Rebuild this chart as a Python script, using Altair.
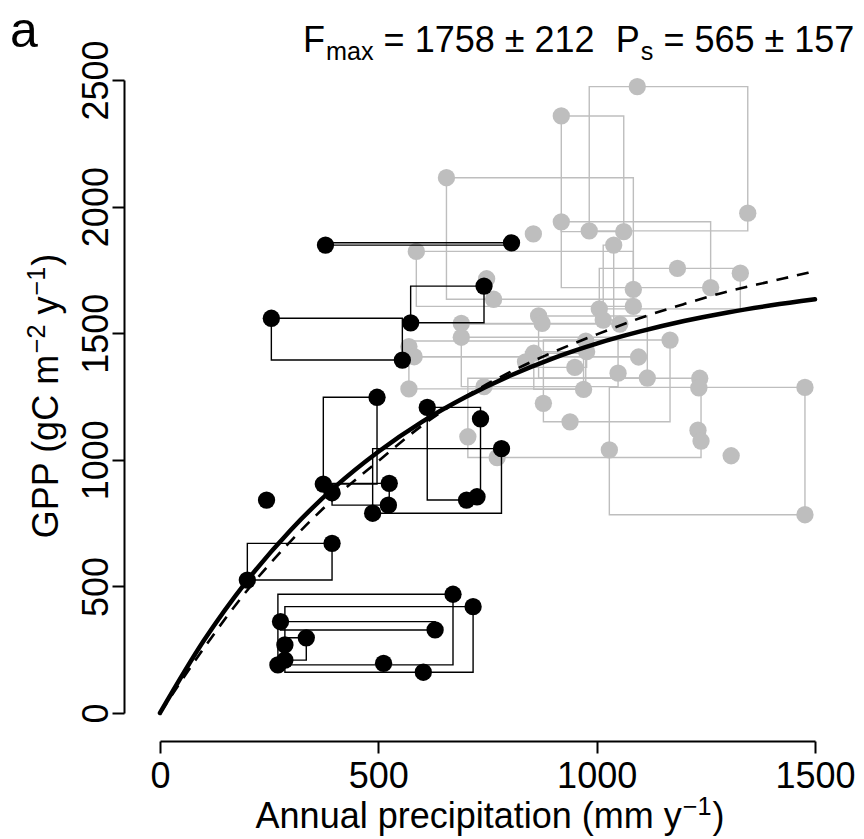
import altair as alt
import pandas as pd

# ---------------- data ----------------
black_x = [379, 805, 742, 255, 574, 555, 497, 612, 734, 782,
           374, 394, 525, 244, 702, 726, 487, 523, 394, 200,
           276, 335, 286, 286, 270, 512, 671, 717, 630, 603]
black_y = [1848, 1857, 1686, 1559, 1541, 1394, 1247, 1207, 1162, 1044,
           904, 870, 907, 841, 841, 854, 789, 821, 670, 525,
           361, 297, 269, 209, 190, 196, 469, 420, 328, 161]
black_site = ["k1", "k1", "k2", "k3", "k2", "k3", "k4", "k7", "k7", "k8",
              "k4", "k5", "k5", "k6", "k7", "k7", "k8", "k5", "k10", "k10",
              "k13", "k14", "k12", "k14", "k11", "k11", "k11", "k12", "k13", "k12"]

gray_x = [1093, 919, 656, 1346, 919, 983, 1062, 1039, 855, 587,
          1185, 1329, 748, 764, 1084, 1261, 1084, 1006, 1015, 867,
          875, 690, 690, 570, 582, 856, 837, 950, 975, 977,
          742, 1049, 570, 705, 772, 1053, 1096, 1168, 1116, 970,
          878, 939, 1236, 1234, 1232, 1239, 1308, 1029, 1477, 1477]
gray_y = [2474, 2358, 2114, 1974, 1940, 1904, 1901, 1848, 1892, 1823,
          1756, 1737, 1715, 1634, 1673, 1680, 1606, 1596, 1552, 1568,
          1539, 1539, 1484, 1447, 1407, 1421, 1387, 1365, 1469, 1427,
          1289, 1342, 1280, 1091, 1009, 1536, 1406, 1473, 1323, 1278,
          1223, 1150, 1322, 1284, 1117, 1074, 1016, 1039, 1286, 783]
gray_site = ["s1", "s2", "s4", "s1", "s3", "s1", "s2", "s21", "s9x", "s5",
             "s6", "s6", "s13x", "s4", "s4", "s3", "s5", "s6", "s21", "s12",
             "s12", "s8", "s11", "s9", "s10", "s20", "s14", "s14", "s9", "s14",
             "s11", "s11", "s9", "s15", "s15", "s8", "s10", "s17", "s12", "s20",
             "s17", "s17", "s15", "s15", "s15", "s15", "s44x", "s16", "s16", "s16"]

curve_x = [0, 100, 200, 300, 400, 500, 600, 700, 800, 900, 1000, 1100, 1200, 1300, 1400, 1500]
solid_y = [0, 285, 524, 724, 892, 1032, 1150, 1248, 1331, 1401, 1459, 1507, 1548, 1582, 1610, 1634]
dashed_y = [0, 255, 485, 680, 850, 995, 1135, 1250, 1345, 1425, 1495, 1560, 1615, 1665, 1705, 1745]

x_ticks = [0, 500, 1000, 1500]
y_ticks = [0, 500, 1000, 1500, 2000, 2500]

# ---------------- styling ----------------
FONT = "Liberation Sans"
FS = 36
SS = 25.2
GRAY = "#BEBEBE"

black = pd.DataFrame({"x": black_x, "y": black_y, "site": black_site})
gray = pd.DataFrame({"x": gray_x, "y": gray_y, "site": gray_site})
curves = pd.DataFrame({"x": curve_x, "solid": solid_y, "dashed": dashed_y})

xs = alt.Scale(domain=[0, 1500], nice=False, zero=False)
ys = alt.Scale(domain=[0, 2500], nice=False, zero=False)

common = dict(tickSize=12, tickWidth=2, domainWidth=2, domainColor="black",
              tickColor="black", labelFont=FONT, labelFontSize=FS, labelColor="black",
              grid=False, title=None, labelFlush=False, labelOverlap=False, format="d")
xaxis = alt.Axis(values=x_ticks, offset=28, labelPadding=6, **common)
yaxis = alt.Axis(values=y_ticks, offset=36, labelAngle=270, labelAlign="center",
                 labelBaseline="alphabetic", labelPadding=5, **common)


def boxes(df, color):
    return (alt.Chart(df)
            .transform_aggregate(x1="min(x)", x2="max(x)", y1="min(y)", y2="max(y)",
                                 n="count()", groupby=["site"])
            .transform_filter("datum.n > 1")
            .mark_rect(fillOpacity=0, stroke=color, strokeWidth=1.4)
            .encode(x=alt.X("x1:Q", scale=xs, axis=xaxis), x2="x2:Q",
                    y=alt.Y("y1:Q", scale=ys, axis=yaxis), y2="y2:Q"))


def points(df, color):
    return (alt.Chart(df).mark_circle(size=300, opacity=1, color=color)
            .encode(x=alt.X("x:Q", scale=xs, axis=xaxis),
                    y=alt.Y("y:Q", scale=ys, axis=yaxis)))


dashed = (alt.Chart(curves).mark_line(color="black", strokeWidth=2.6, strokeDash=[12, 9],
                                      interpolate="monotone")
          .encode(x=alt.X("x:Q", scale=xs, axis=xaxis),
                  y=alt.Y("dashed:Q", scale=ys, axis=yaxis)))
solid = (alt.Chart(curves).mark_line(color="black", strokeWidth=4.5, interpolate="monotone",
                                     strokeCap="round")
         .encode(x=alt.X("x:Q", scale=xs, axis=xaxis),
                 y=alt.Y("solid:Q", scale=ys, axis=yaxis)))

# ---------------- text pieces (rich text built from parts) ----------------
AW = {'A': 667, 'n': 556, 'u': 556, 'a': 556, 'l': 222, ' ': 278, 'p': 556, 'r': 333,
      'e': 556, 'c': 500, 'i': 222, 't': 278, 'o': 556, '(': 333, ')': 333, 'm': 833,
      'y': 500, 'G': 778, 'P': 667, 'g': 556, 'C': 722, 'F': 611, 'x': 500, 's': 500,
      '=': 584, '1': 556, '7': 556, '5': 556, '8': 556, '2': 556, '6': 556,
      '\u00b1': 584, '\u2212': 584}
SP = 0.278 * FS  # width of one space


def tw(s, size):
    return sum(AW.get(c, 556) for c in s) / 1000.0 * size


one = pd.DataFrame({"k": [0]})


def txt(s, x, y, size, angle=0, align="left"):
    return (alt.Chart(one)
            .mark_text(text=s, align=align, baseline="alphabetic", font=FONT,
                       fontSize=size, color="black", angle=angle)
            .encode(x=alt.value(x), y=alt.value(y)))


texts = []
# x title: (text, size, baseline shift, gap before)
parts = [("Annual precipitation (mm y", FS, 0, 0), ("\u22121", SS, -13, 1), (")", FS, 0, 1)]
total = sum(tw(s, sz) + g for s, sz, _, g in parts)
cx = 330 - total / 2
for s, sz, dy, g in parts:
    cx += g
    texts.append(txt(s, cx, 748 + dy, sz))
    cx += tw(s, sz)

# y title (rotated)
parts = [("GPP (gC m", FS, 0, 0), ("\u22122", SS, -13, 1), ("y", FS, 0, SP),
         ("\u22121", SS, -13, 1), (")", FS, 0, 1)]
total = sum(tw(s, sz) + g for s, sz, _, g in parts)
cy = 316 + total / 2
for s, sz, dx, g in parts:
    cy -= g
    texts.append(txt(s, -102 + dx, cy, sz, angle=270))
    cy -= tw(s, sz)

# top annotation
parts = [("F", FS, 0, 0), ("max", SS, 8, 1), ("= 1758 \u00b1 212", FS, 0, SP),
         ("P", FS, 0, 2 * SP), ("s", SS, 8, 1), ("= 565 \u00b1 157", FS, 0, SP)]
cx = 143
for s, sz, dy, g in parts:
    cx += g
    texts.append(txt(s, cx, -28 + dy, sz))
    cx += tw(s, sz)

texts.append(txt("a", -150, -33, 50))

chart = alt.layer(
    boxes(gray, GRAY), points(gray, GRAY),
    boxes(black, "black"), points(black, "black"),
    dashed, solid, *texts
).properties(
    width=655, height=633, autosize="none",
    padding={"left": 152, "top": 72, "right": 41, "bottom": 124}
).configure_view(stroke=None)

chart.save("out.html", embed_options={"renderer": "svg", "actions": False})
